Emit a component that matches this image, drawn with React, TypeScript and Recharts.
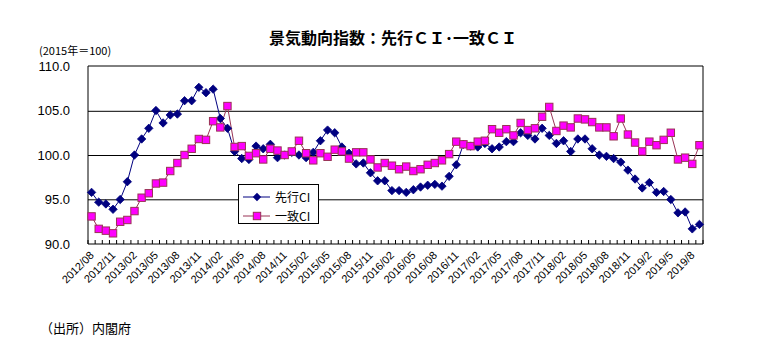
import React from "react";
import { LineChart, Line, XAxis, YAxis, CartesianGrid } from "recharts";

const months = [
  "2012/08","2012/09","2012/10","2012/11","2012/12","2013/01","2013/02","2013/03","2013/04","2013/05","2013/06","2013/07",
  "2013/08","2013/09","2013/10","2013/11","2013/12","2014/01","2014/02","2014/03","2014/04","2014/05","2014/06","2014/07",
  "2014/08","2014/09","2014/10","2014/11","2014/12","2015/01","2015/02","2015/03","2015/04","2015/05","2015/06","2015/07",
  "2015/08","2015/09","2015/10","2015/11","2015/12","2016/01","2016/02","2016/03","2016/04","2016/05","2016/06","2016/07",
  "2016/08","2016/09","2016/10","2016/11","2016/12","2017/01","2017/02","2017/03","2017/04","2017/05","2017/06","2017/07",
  "2017/08","2017/09","2017/10","2017/11","2017/12","2018/01","2018/02","2018/03","2018/04","2018/05","2018/06","2018/07",
  "2018/08","2018/09","2018/10","2018/11","2018/12","2019/01","2019/02","2019/03","2019/04","2019/05","2019/06","2019/07",
  "2019/08","2019/09",
];

const tickLabels = [
  "2012/08","2012/11","2013/02","2013/05","2013/08","2013/11","2014/02","2014/05","2014/08","2014/11",
  "2015/02","2015/05","2015/08","2015/11","2016/02","2016/05","2016/08","2016/11","2017/02","2017/05",
  "2017/08","2017/11","2018/02","2018/05","2018/08","2018/11","2019/2","2019/5","2019/8",
];

const leadingCI = [
  95.8, 94.7, 94.5, 93.9, 95.0, 97.0, 100.0, 101.8, 103.0, 105.0, 103.6, 104.5,
  104.6, 106.1, 106.1, 107.6, 107.0, 107.4, 104.1, 103.0, 100.4, 99.6, 99.5, 101.0,
  100.7, 101.2, 99.7, 100.0, 100.3, 100.0, 99.7, 100.3, 101.6, 102.8, 102.5, 100.9,
  100.2, 99.0, 99.1, 98.0, 97.1, 97.1, 96.0, 96.0, 95.8, 96.1, 96.4, 96.6,
  96.7, 96.5, 97.6, 98.9, 101.2, 101.0, 100.9, 101.3, 100.7, 100.9, 101.5, 101.5,
  102.5, 102.2, 101.8, 103.0, 102.2, 101.3, 101.6, 100.4, 101.8, 101.8, 100.7, 100.0,
  99.85, 99.6, 99.2, 98.3, 97.3, 96.3, 96.9, 95.8, 95.9, 95.0, 93.5, 93.6,
  91.7, 92.2,
];

const coincidentCI = [
  93.1, 91.7, 91.5, 91.2, 92.5, 92.7, 93.7, 95.2, 95.7, 96.8, 96.9, 98.2,
  99.1, 100.0, 100.7, 101.8, 101.7, 103.8, 103.1, 105.5, 100.9, 101.0, 99.9, 100.2,
  99.5, 100.7, 100.5, 100.0, 100.4, 101.6, 100.2, 99.4, 100.2, 99.8, 100.6, 100.4,
  99.6, 100.3, 100.3, 99.5, 98.6, 99.1, 98.8, 98.4, 98.7, 98.2, 98.4, 98.9,
  99.1, 99.4, 100.1, 101.5, 101.2, 101.0, 101.5, 101.6, 102.9, 102.5, 102.9, 102.2,
  103.6, 102.8, 103.0, 104.3, 105.4, 102.7, 103.3, 103.1, 104.1, 104.0, 103.7, 103.1,
  103.1, 102.1, 104.1, 102.3, 101.4, 100.4, 101.5, 101.1, 101.7, 102.5, 99.5, 99.7,
  99.0, 101.1,
];

const yTicks = [90, 95, 100, 105, 110];

const data = months.map((m, i) => ({ month: m, lead: leadingCI[i], coin: coincidentCI[i] }));

const W = 778;
const H = 352;
const PLOT_L = 88;
const PLOT_R = 703;
const PLOT_T = 66;
const PLOT_B = 244;
const BAND = (PLOT_R - PLOT_L) / months.length;

const LEAD_COLOR = "#000080";
const COIN_LINE = "#993355";
const COIN_FILL = "#FF00FF";
const FONT = "'Liberation Sans', Arial, 'Noto Sans CJK JP', sans-serif";
const JFONT = "'Noto Sans CJK JP', 'Liberation Sans', sans-serif";

const Diamond = (props: any) => {
  const { cx, cy, index } = props;
  if (cx == null || cy == null) return <g key={`d${index}`} />;
  const r = 4.2;
  return (
    <path
      key={`d${index}`}
      d={`M${cx},${cy - r} L${cx + r},${cy} L${cx},${cy + r} L${cx - r},${cy} Z`}
      fill={LEAD_COLOR}
      stroke={LEAD_COLOR}
      strokeWidth={0.8}
    />
  );
};

const Square = (props: any) => {
  const { cx, cy, index } = props;
  if (cx == null || cy == null) return <g key={`s${index}`} />;
  const r = 3.7;
  return (
    <rect
      key={`s${index}`}
      x={cx - r}
      y={cy - r}
      width={2 * r}
      height={2 * r}
      fill={COIN_FILL}
      stroke={COIN_LINE}
      strokeWidth={1}
    />
  );
};

const XTick = (props: any) => {
  const { x, y, index } = props;
  const half = BAND / 2;
  const label = index % 3 === 0 ? tickLabels[index / 3] : null;
  return (
    <g>
      <line x1={x - half} x2={x - half} y1={y} y2={y - 4} stroke="#000" strokeWidth={1} />
      {index === months.length - 1 && (
        <line x1={x + half} x2={x + half} y1={y} y2={y - 4} stroke="#000" strokeWidth={1} />
      )}
      {label && (
        <text
          transform={`translate(${x + 3},${y + 12}) rotate(-45)`}
          textAnchor="end"
          fontSize={11}
          fontFamily={FONT}
          fill="#000"
        >
          {label}
        </text>
      )}
    </g>
  );
};

const LegendBox = () => (
  <svg width={82} height={41} style={{ position: "absolute", left: 238, top: 184 }}>
    <rect x={0.5} y={0.5} width={80} height={39} fill="#fff" stroke="#000" strokeWidth={1} />
    <line x1={5} x2={32} y1={13} y2={13} stroke={LEAD_COLOR} strokeWidth={1} />
    <path d="M19,8.8 L23.2,13 L19,17.2 L14.8,13 Z" fill={LEAD_COLOR} />
    <text x={37} y={17.5} fontSize={12} fontFamily={JFONT} fill="#000">先行CI</text>
    <line x1={5} x2={32} y1={32} y2={32} stroke={COIN_LINE} strokeWidth={1} />
    <rect x={15.3} y={28.3} width={7.4} height={7.4} fill={COIN_FILL} stroke={COIN_LINE} strokeWidth={1} />
    <text x={37} y={36.5} fontSize={12} fontFamily={JFONT} fill="#000">一致CI</text>
  </svg>
);

export default function App() {
  return (
    <div style={{ position: "absolute", left: 0, top: 0, width: W, height: H, background: "#fff" }}>
      <LineChart
        width={W}
        height={H}
        data={data}
        margin={{ top: PLOT_T, right: W - PLOT_R, bottom: H - PLOT_B - 30, left: 0 }}
      >
        <CartesianGrid
          stroke="#000"
          strokeWidth={1}
          vertical={true}
          verticalPoints={[PLOT_R]}
          horizontalPoints={[PLOT_T, 111.3, 155.5, 199.8]}
        />
        <XAxis
          dataKey="month"
          interval={0}
          height={30}
          tickSize={0}
          tickMargin={0}
          tickLine={false}
          axisLine={{ stroke: "#000", strokeWidth: 1 }}
          padding={{ left: BAND / 2, right: BAND / 2 }}
          tick={<XTick />}
        />
        <YAxis
          width={PLOT_L}
          domain={[90, 110]}
          ticks={yTicks}
          interval={0}
          tickFormatter={(v: number) => v.toFixed(1)}
          tickLine={false}
          tickSize={0}
          tickMargin={18}
          axisLine={{ stroke: "#000", strokeWidth: 1 }}
          tick={{ fontSize: 13, fontFamily: FONT, fill: "#000" }}
        />
        <Line
          dataKey="lead"
          stroke={LEAD_COLOR}
          strokeWidth={1}
          dot={Diamond}
          activeDot={false}
          isAnimationActive={false}
        />
        <Line
          dataKey="coin"
          stroke={COIN_LINE}
          strokeWidth={1}
          dot={Square}
          activeDot={false}
          isAnimationActive={false}
        />
      </LineChart>
      <div
        style={{
          position: "absolute",
          left: 0,
          width: W,
          top: 27,
          textAlign: "center",
          fontFamily: JFONT,
          fontWeight: 700,
          fontSize: 16,
          lineHeight: "20px",
          paddingLeft: 4,
        }}
      >
        景気動向指数：先行ＣＩ･一致ＣＩ
      </div>
      <div
        style={{
          position: "absolute",
          left: 39,
          top: 43,
          fontFamily: JFONT,
          fontSize: 11,
          lineHeight: "14px",
        }}
      >
        (2015年＝100)
      </div>
      <LegendBox />
      <div
        style={{
          position: "absolute",
          left: 40,
          top: 319,
          fontFamily: JFONT,
          fontSize: 13,
          lineHeight: "18px",
        }}
      >
        （出所）内閣府
      </div>
    </div>
  );
}
